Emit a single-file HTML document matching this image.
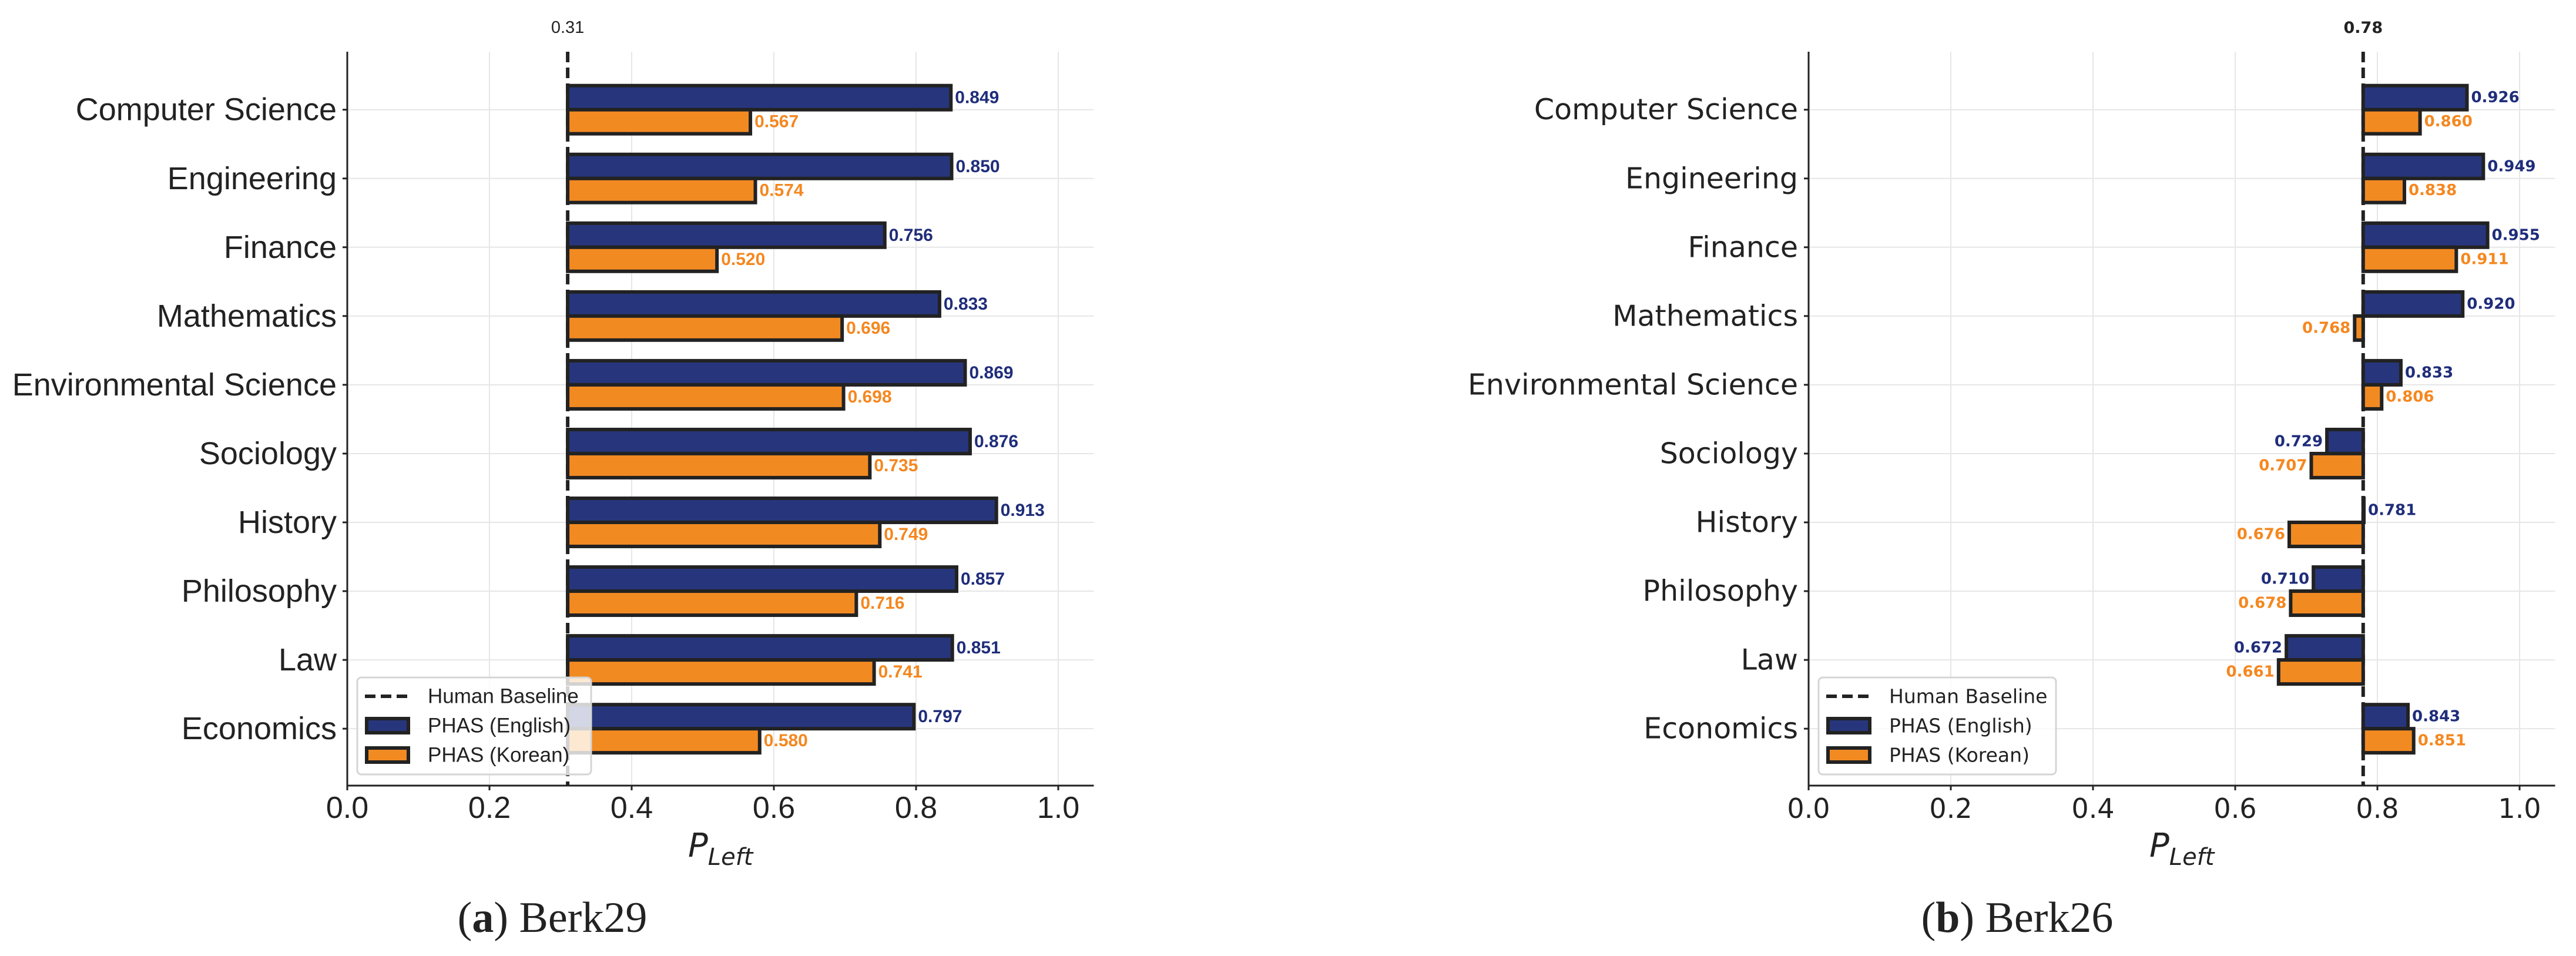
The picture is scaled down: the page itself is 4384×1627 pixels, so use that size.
<!DOCTYPE html>
<html><head><meta charset="utf-8">
<style>
html,body{margin:0;padding:0;background:#fff;}
svg{display:block;}
</style></head>
<body>
<svg id="fig" xmlns="http://www.w3.org/2000/svg" width="4384" height="1627" viewBox="0 0 4384 1627">
<rect width="4384" height="1627" fill="#fff"/>
<g id="panelA"></g>
<g id="panelB"></g>
<text x="940" y="1586" text-anchor="middle" font-family="Liberation Serif, serif" font-size="74" fill="#222">(<tspan font-weight="bold">a</tspan>) Berk29</text>
<text x="3433" y="1586" text-anchor="middle" font-family="Liberation Serif, serif" font-size="74" fill="#222">(<tspan font-weight="bold">b</tspan>) Berk26</text>
</svg>
<script>
const categories = ["Computer Science","Engineering","Finance","Mathematics","Environmental Science","Sociology","History","Philosophy","Law","Economics"];
const berk29English = [0.849,0.850,0.756,0.833,0.869,0.876,0.913,0.857,0.851,0.797];
const berk29Korean = [0.567,0.574,0.520,0.696,0.698,0.735,0.749,0.716,0.741,0.580];
const berk26English = [0.926,0.949,0.955,0.920,0.833,0.729,0.781,0.710,0.672,0.843];
const berk26Korean = [0.860,0.838,0.911,0.768,0.806,0.707,0.676,0.678,0.661,0.851];
const berk29Baseline = 0.31;
const berk26Baseline = 0.78;
const xTicks = [0.0,0.2,0.4,0.6,0.8,1.0];
const xTickLabels = ["0.0","0.2","0.4","0.6","0.8","1.0"];
const legendLabels = ["Human Baseline","PHAS (English)","PHAS (Korean)"];

const NS="http://www.w3.org/2000/svg";
const BLUE="#27367c", ORANGE="#f28a22", BLUE_T="#1f2d7a", ORANGE_T="#f5871f", INK="#222";
function mk(parent,tag,attrs){const e=document.createElementNS(NS,tag);for(const k in attrs)e.setAttribute(k,attrs[k]);parent.appendChild(e);return e;}

function drawPanel(g,cfg,eng,kor,base){
  const x0=cfg.x0, scale=1210, xmax=1.05;
  const X=v=>x0+v*scale;
  const yTop=88, yBot=1337, step=117.05, first=186.7;
  const Y=i=>first+i*step;
  const xEnd=X(xmax);
  // grid
  xTicks.forEach(t=>{const l=mk(g,'line',{x1:X(t),x2:X(t),y1:yTop,y2:yBot,stroke:'#e6e6e6','stroke-width':2});
    
    });
  categories.forEach((c,i)=>{const l=mk(g,'line',{x1:x0,x2:xEnd,y1:Y(i),y2:Y(i),stroke:'#e6e6e6','stroke-width':2});
    
    });
  // baseline dashed
  const bl=mk(g,'line',{x1:X(base),x2:X(base),y1:yTop,y2:yBot,stroke:INK,'stroke-width':6,'stroke-dasharray':'18 9'});
  
  
  const blt=mk(g,'text',{x:X(base),y:56,'text-anchor':'middle','font-family':cfg.font,'font-size':cfg.baseFs,'font-weight':cfg.baseW,fill:INK});
  blt.textContent=base.toFixed(2);
  
  
  // bars
  const h=0.35*step;
  categories.forEach((c,i)=>{
    [[eng[i],-h,BLUE,BLUE_T,'bar-english'],[kor[i],0,ORANGE,ORANGE_T,'bar-korean']].forEach(s=>{
      const v=s[0], xa=X(Math.min(v,base)), xb=X(Math.max(v,base));
      const r=mk(g,'rect',{x:xa,y:Y(i)+s[1],width:Math.max(xb-xa,0.5),height:h,fill:s[2],stroke:INK,'stroke-width':6});
      
      
      const right=v>=base;
      const t=mk(g,'text',{x:right?xb+7:xa-7,y:Y(i)+s[1]+h/2,'text-anchor':right?'start':'end','dominant-baseline':'central','font-family':cfg.font,'font-size':cfg.valFs,'font-weight':'bold',fill:s[3]});
      t.textContent=v.toFixed(3);
      
      
    });
  });
  // spines
  const sl=mk(g,'line',{x1:x0,x2:x0,y1:yTop,y2:yBot+1.5,stroke:INK,'stroke-width':3});
  
  
  const sb=mk(g,'line',{x1:x0-1.5,x2:xEnd,y1:yBot,y2:yBot,stroke:INK,'stroke-width':3});
  
  
  // x ticks
  xTicks.forEach((t,k)=>{
    mk(g,'line',{x1:X(t),x2:X(t),y1:yBot,y2:yBot+8,stroke:INK,'stroke-width':3});
    const tl=mk(g,'text',{x:X(t),y:1392,'text-anchor':'middle','font-family':cfg.font,'font-size':cfg.tickFs,fill:INK});
    tl.textContent=xTickLabels[k];
    
    
  });
  // y ticks
  categories.forEach((c,i)=>{
    mk(g,'line',{x1:x0-8,x2:x0,y1:Y(i),y2:Y(i),stroke:INK,'stroke-width':3});
    const tl=mk(g,'text',{x:x0-18,y:Y(i),'text-anchor':'end','dominant-baseline':'central','font-family':cfg.font,'font-size':cfg.catFs,fill:INK});
    tl.textContent=c;
    
    
  });
  // x label
  const xl=mk(g,'text',{x:(x0+xEnd)/2,y:1458,'text-anchor':'middle','font-family':'DejaVu Sans, sans-serif','font-size':56,'font-style':'italic',fill:INK});
  
  
  xl.innerHTML='P<tspan font-size="40" dy="14">Left</tspan>';
  // legend
  const lx=x0+17, lw=cfg.legW;
  const lg=mk(g,'g',{});
  
  
  mk(lg,'rect',{x:lx,y:1153,width:lw,height:165,rx:7,fill:'#fff','fill-opacity':0.8,stroke:'#d5d5d5','stroke-width':3});
  const hx=lx+13, hw=77, tx=lx+120;
  const rows=[1185,1235,1285];
  mk(lg,'line',{x1:hx,x2:hx+hw,y1:rows[0],y2:rows[0],stroke:INK,'stroke-width':6,'stroke-dasharray':'18 9'});
  mk(lg,'rect',{x:hx+3,y:rows[1]-12,width:hw-6,height:24,fill:BLUE,stroke:INK,'stroke-width':6});
  mk(lg,'rect',{x:hx+3,y:rows[2]-12,width:hw-6,height:24,fill:ORANGE,stroke:INK,'stroke-width':6});
  legendLabels.forEach((s,k)=>{
    const t=mk(lg,'text',{x:tx,y:rows[k],'dominant-baseline':'central','font-family':cfg.font,'font-size':cfg.legFs,fill:INK});
    t.textContent=s;
    
    
  });
}
drawPanel(document.getElementById('panelA'),{x0:591,font:'Liberation Sans, sans-serif',catFs:54,tickFs:52,valFs:30,baseFs:29,baseW:'normal',legFs:35,legW:398},berk29English,berk29Korean,berk29Baseline);
drawPanel(document.getElementById('panelB'),{x0:3078,font:'DejaVu Sans, sans-serif',catFs:49,tickFs:46,valFs:26,baseFs:27,baseW:'bold',legFs:33,legW:404},berk26English,berk26Korean,berk26Baseline);
</script>
</body></html>
